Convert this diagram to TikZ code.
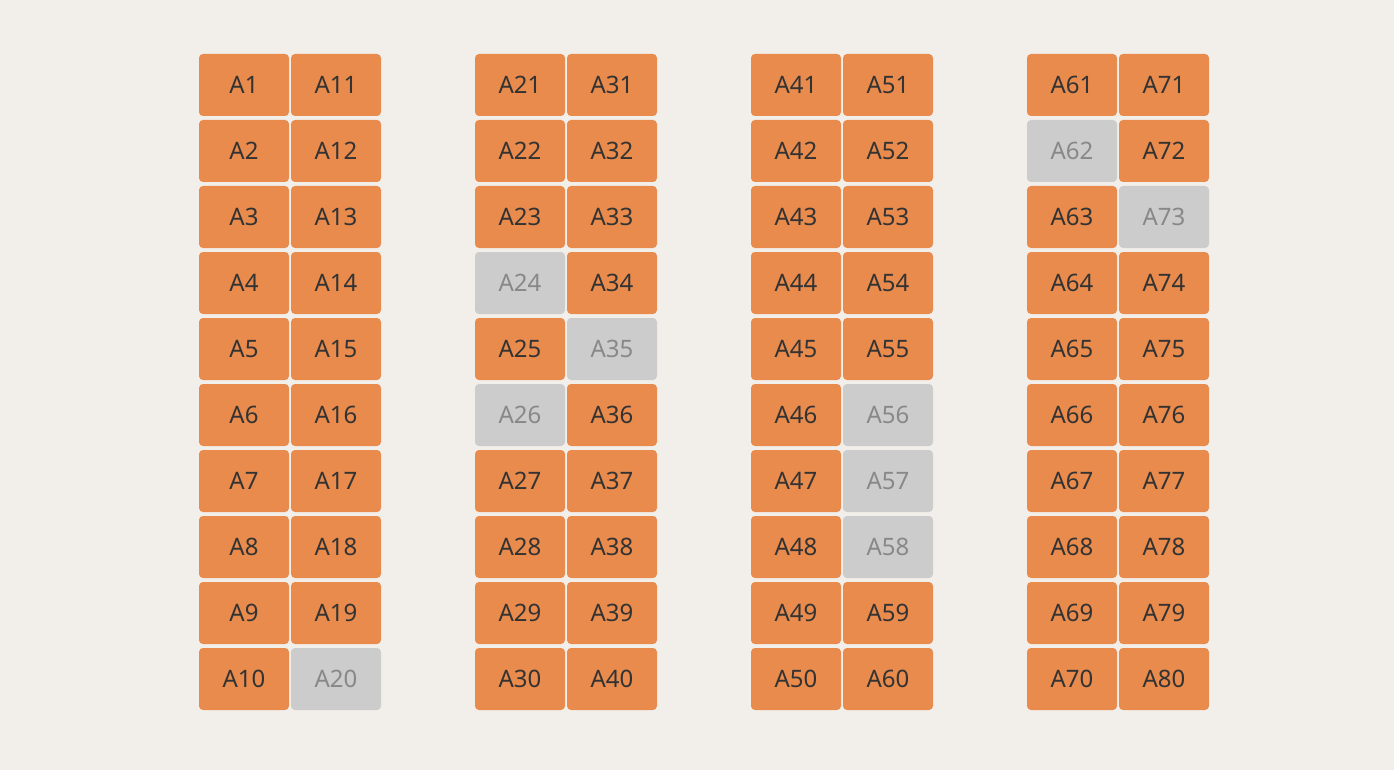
\documentclass[tikz,border=0pt]{standalone}
\usepackage{fontspec}
\setmainfont{Noto Sans}
\usepackage{tikz}
\definecolor{bgcol}{HTML}{F2EFEA}
\definecolor{seatorange}{HTML}{E88B4C}
\definecolor{seatgrey}{HTML}{CCCCCC}
\definecolor{textdark}{HTML}{333333}
\definecolor{textgrey}{HTML}{888888}
\tikzstyle{seat} = [rectangle, rounded corners=4pt, minimum width=90pt, minimum height=62pt, inner sep=0pt, text centered, font=\fontsize{24}{24}\selectfont]
\tikzstyle{taken} = [seat, fill=seatorange, text=textdark]
\tikzstyle{free} = [seat, fill=seatgrey, text=textgrey]

\begin{document}
\begin{tikzpicture}[x=1pt, y=-1pt]

% --- Background ---
\fill[bgcol] (0,0) rectangle (1394,770);

% --- Seat blocks: 4 blocks of 2 columns x 10 rows ---
\foreach \b in {0,...,3} {
  \foreach \c in {0,1} {
    \foreach \r in {0,...,9} {
      \pgfmathtruncatemacro{\n}{\b*20+\c*10+\r+1}
      \pgfmathtruncatemacro{\isfree}{(\n==20)||(\n==24)||(\n==26)||(\n==35)||(\n==56)||(\n==57)||(\n==58)||(\n==62)||(\n==73)}
      \ifnum\isfree=1 \tikzset{cur/.style={free}}\else\tikzset{cur/.style={taken}}\fi
      \node (seat_\n) [cur] at (244+\b*276+\c*92, 85+\r*66) {A\n};
    }
  }
}

\end{tikzpicture}
\end{document}
